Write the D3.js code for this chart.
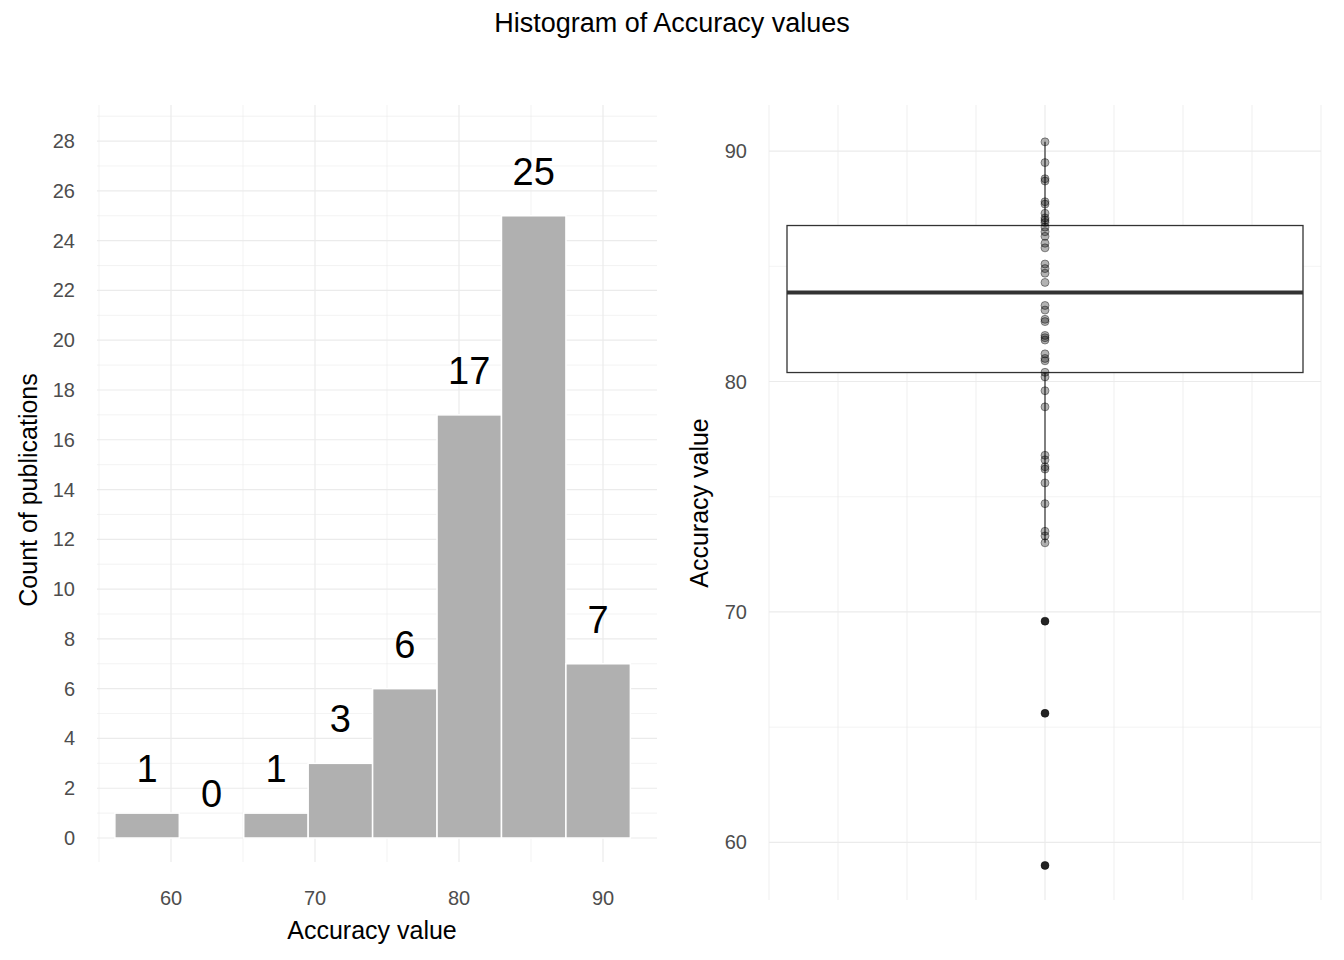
<!DOCTYPE html><html><head><meta charset="utf-8">
<script src="https://cdn.jsdelivr.net/npm/d3@7"></script>
<style>body{margin:0;background:#fff;font-family:Arial,"Liberation Sans",sans-serif}</style></head><body>
<svg id="c" width="1344" height="960"></svg>
<script>
const binStart=56.1, binWidth=4.475;
const counts=[1,0,1,3,6,17,25,7];
const xTicks=[60,70,80,90];
const yTicks=d3.range(0,29,2);
const accValues=[90.4,89.5,88.8,88.7,87.8,87.7,87.3,87.1,87.0,86.9,86.7,86.5,86.3,86.0,85.8,85.1,84.9,84.7,84.3,83.3,83.1,82.7,82.6,82.0,81.9,81.8,81.2,81.0,80.9,80.4,80.2,79.6,78.9,76.8,76.6,76.3,76.2,75.6,74.7,73.5,73.3,73.0,69.6,65.6,59.0];
const boxStats={q1:80.39,median:83.86,q3:86.77,lo:73.0,hi:90.4};
const boxTicks=[60,70,80,90];

const svg=d3.select("#c");
svg.append("text").attr("x",672).attr("y",32).attr("text-anchor","middle").attr("font-size",27).text("Histogram of Accuracy values");

const x=d3.scaleLinear().domain([54.86,93.75]).range([97,657]);
const y=d3.scaleLinear().domain([-0.964,29.45]).range([862,105]);
const g=svg.append("g");
d3.range(1,30,2).forEach(v=>g.append("line").attr("x1",97).attr("x2",657).attr("y1",y(v)).attr("y2",y(v)).attr("stroke","#ebebeb").attr("stroke-width",0.6));
[55,65,75,85].forEach(v=>g.append("line").attr("x1",x(v)).attr("x2",x(v)).attr("y1",105).attr("y2",862).attr("stroke","#ebebeb").attr("stroke-width",0.6));
yTicks.forEach(v=>g.append("line").attr("x1",97).attr("x2",657).attr("y1",y(v)).attr("y2",y(v)).attr("stroke","#ebebeb").attr("stroke-width",1.2));
xTicks.forEach(v=>g.append("line").attr("x1",x(v)).attr("x2",x(v)).attr("y1",105).attr("y2",862).attr("stroke","#ebebeb").attr("stroke-width",1.2));
counts.forEach((c,i)=>{
  const x0=binStart+i*binWidth,x1=x0+binWidth;
  if(c>0) g.append("rect").attr("x",x(x0)).attr("width",x(x1)-x(x0)).attr("y",y(c)).attr("height",y(0)-y(c)).attr("fill","#b0b0b0").attr("stroke","#fff").attr("stroke-width",1.5);
  g.append("text").attr("x",(x(x0)+x(x1))/2).attr("y",y(c)-31).attr("text-anchor","middle").attr("font-size",38).text(c);
});
yTicks.forEach(v=>g.append("text").attr("x",75).attr("y",y(v)+7).attr("text-anchor","end").attr("font-size",20).attr("fill","#4d4d4d").text(v));
xTicks.forEach(v=>g.append("text").attr("x",x(v)).attr("y",905).attr("text-anchor","middle").attr("font-size",20).attr("fill","#4d4d4d").text(v));
g.append("text").attr("x",372).attr("y",939).attr("text-anchor","middle").attr("font-size",25).text("Accuracy value");
g.append("text").attr("transform","translate(37,490) rotate(-90)").attr("text-anchor","middle").attr("font-size",25).text("Count of publications");

const by=d3.scaleLinear().domain([57.5,92.0]).range([900,105]);
const bx=d3.scaleLinear().domain([0,8]).range([769,1321]);
const b=svg.append("g");
[65,75,85].forEach(v=>b.append("line").attr("x1",769).attr("x2",1321).attr("y1",by(v)).attr("y2",by(v)).attr("stroke","#ebebeb").attr("stroke-width",0.6));
boxTicks.forEach(v=>b.append("line").attr("x1",769).attr("x2",1321).attr("y1",by(v)).attr("y2",by(v)).attr("stroke","#ebebeb").attr("stroke-width",1.2));
d3.range(0,9).forEach(v=>b.append("line").attr("x1",bx(v)).attr("x2",bx(v)).attr("y1",105).attr("y2",900).attr("stroke","#ebebeb").attr("stroke-width",v==4?1.2:0.8));
b.append("line").attr("x1",bx(4)).attr("x2",bx(4)).attr("y1",by(boxStats.hi)).attr("y2",by(boxStats.lo)).attr("stroke","#333").attr("stroke-width",1.2);
b.append("rect").attr("x",787).attr("width",1303-787).attr("y",by(boxStats.q3)).attr("height",by(boxStats.q1)-by(boxStats.q3)).attr("fill","#fff").attr("stroke","#333").attr("stroke-width",1.3);
b.append("line").attr("x1",787).attr("x2",1303).attr("y1",by(boxStats.median)).attr("y2",by(boxStats.median)).attr("stroke","#333").attr("stroke-width",4);
[69.6,65.6,59.0].forEach(v=>b.append("circle").attr("cx",bx(4)).attr("cy",by(v)).attr("r",4).attr("fill","#333"));
accValues.forEach(v=>b.append("circle").attr("cx",bx(4)).attr("cy",by(v)).attr("r",4).attr("fill","#000").attr("fill-opacity",0.3).attr("stroke","#000").attr("stroke-opacity",0.4));
boxTicks.forEach(v=>b.append("text").attr("x",747).attr("y",by(v)+7).attr("text-anchor","end").attr("font-size",20).attr("fill","#4d4d4d").text(v));
b.append("text").attr("transform","translate(708,503) rotate(-90)").attr("text-anchor","middle").attr("font-size",25).text("Accuracy value");
</script></body></html>
